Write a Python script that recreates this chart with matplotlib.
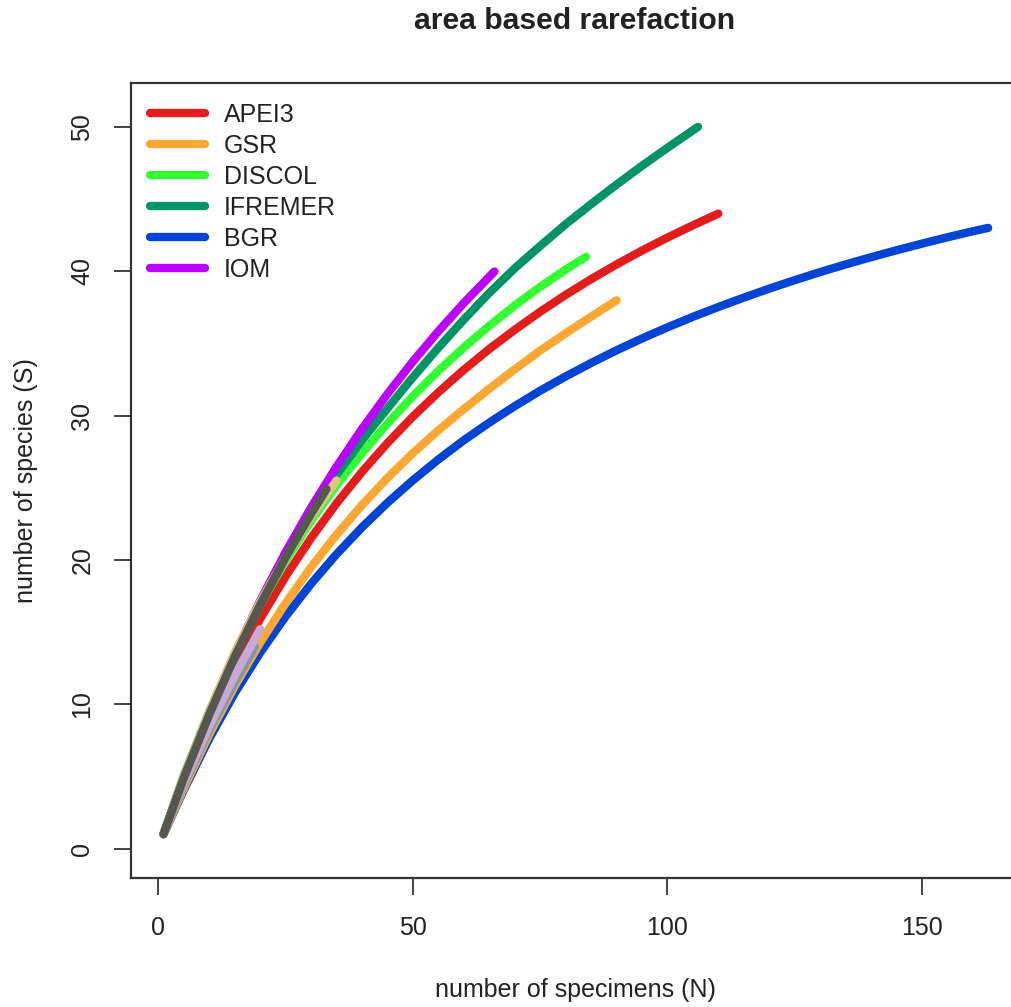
import matplotlib
matplotlib.use('Agg')
import matplotlib.pyplot as plt

plt.rcParams['font.family'] = ['Liberation Sans', 'DejaVu Sans']

# Rarefaction curves (specimens N, species S)
apei3_n = [1, 5, 10, 15, 20, 25, 30, 35, 40, 45, 50, 55, 60, 65, 70, 75, 80, 85, 90, 95, 100, 105, 110]
apei3_s = [1.0, 4.77, 8.95, 12.64, 15.93, 18.87, 21.52, 23.92, 26.10, 28.10, 29.93, 31.61, 33.17,
           34.61, 35.94, 37.19, 38.36, 39.45, 40.47, 41.43, 42.33, 43.18, 43.99]

gsr_n = [1, 5, 10, 15, 20, 25, 30, 35, 40, 45, 50, 55, 60, 65, 70, 75, 80, 85, 90]
gsr_s = [1.0, 4.19, 7.93, 11.27, 14.28, 17.01, 19.50, 21.75, 23.80, 25.68, 27.40, 28.98, 30.45,
         31.85, 33.20, 34.50, 35.70, 36.85, 37.98]

discol_n = [1, 5, 10, 15, 20, 25, 30, 35, 40, 45, 50, 55, 60, 65, 70, 75, 80, 84]
discol_s = [1.0, 5.10, 9.52, 13.42, 16.88, 19.95, 22.70, 25.18, 27.40, 29.45, 31.35, 33.10, 34.72,
            36.22, 37.62, 38.92, 40.12, 41.00]

ifremer_n = [1, 5, 10, 15, 20, 25, 30, 35, 40, 45, 50, 55, 60, 65, 70, 75, 80, 85, 90, 95, 100, 106]
ifremer_s = [1.0, 4.95, 9.3, 13.3, 16.9, 20.2, 23.2, 25.9, 28.3, 30.5, 32.65, 34.7, 36.65, 38.5,
             40.2, 41.75, 43.25, 44.65, 46.0, 47.3, 48.55, 50.0]

bgr_n = [1, 5, 10, 15, 20, 25, 30, 35, 40, 45, 50, 55, 60, 65, 70, 75, 80, 85, 90, 95, 100,
         105, 110, 115, 120, 125, 130, 135, 140, 145, 150, 155, 160, 163]
bgr_s = [1.0, 4.07, 7.63, 10.78, 13.58, 16.09, 18.35, 20.40, 22.26, 23.96, 25.52, 26.96, 28.29,
         29.51, 30.65, 31.72, 32.71, 33.64, 34.52, 35.34, 36.11, 36.84, 37.52, 38.17, 38.79,
         39.38, 39.94, 40.47, 40.97, 41.45, 41.91, 42.35, 42.77, 43.0]

iom_n = [1, 5, 10, 15, 20, 25, 30, 35, 40, 45, 50, 55, 60, 66]
iom_s = [1.0, 4.97, 9.45, 13.50, 17.18, 20.54, 23.63, 26.46, 29.08, 31.50, 33.75, 35.84, 37.80, 39.98]

# short unlabeled curves near the origin
slate_n = [1, 5, 10, 15, 19]
slate_s = [1.0, 4.4, 8.2, 11.5, 14.0]
lavender_n = [1, 5, 10, 15, 20]
lavender_s = [1.0, 4.6, 8.5, 12.0, 15.2]
tan_n = [1, 5, 10, 15, 20, 25, 30, 35]
tan_s = [1.0, 5.0, 9.5, 13.6, 17.1, 20.2, 23.0, 25.5]
grey_n = [1, 5, 10, 15, 20, 25, 30, 33]
grey_s = [1.0, 4.9, 9.3, 13.3, 16.9, 20.2, 23.2, 24.9]

names = ['APEI3', 'GSR', 'DISCOL', 'IFREMER', 'BGR', 'IOM']
colors = ['#e31c1c', '#ffa733', '#33ff33', '#009365', '#0044d6', '#bb00ff']

fig = plt.figure(figsize=(10.12, 10.07), dpi=100)
ax = fig.add_axes([0.129, 0.1281, 0.88, 0.7895])

lw = 6
# draw order: blue first, then upwards
ax.plot(bgr_n, bgr_s, color=colors[4], lw=lw, solid_capstyle='round')
ax.plot(gsr_n, gsr_s, color=colors[1], lw=lw, solid_capstyle='round')
ax.plot(apei3_n, apei3_s, color=colors[0], lw=lw, solid_capstyle='round')
ax.plot(discol_n, discol_s, color=colors[2], lw=lw, solid_capstyle='round')
ax.plot(ifremer_n, ifremer_s, color=colors[3], lw=lw, solid_capstyle='round')
ax.plot(iom_n, iom_s, color=colors[5], lw=lw, solid_capstyle='round')
ax.plot(slate_n, slate_s, color='#7f9aa0', lw=lw, solid_capstyle='round')
ax.plot(lavender_n, lavender_s, color='#c9a9d6', lw=lw, solid_capstyle='round')
ax.plot(tan_n, tan_s, color='#d9c77c', lw=lw, solid_capstyle='round')
ax.plot(grey_n, grey_s, color='#56574f', lw=lw, solid_capstyle='round')

ax.set_xlim(-5.48, 169.48)
ax.set_ylim(-2.04, 53.04)
ax.set_xticks([0, 50, 100, 150])
ax.set_yticks([0, 10, 20, 30, 40, 50])
ax.tick_params(axis='both', length=12, width=1.3, color='#333333',
               labelsize=18, labelcolor='#222222')
ax.tick_params(axis='x', pad=15)
ax.tick_params(axis='y', pad=14)
for lab in ax.get_yticklabels():
    lab.set_rotation(90)
    lab.set_va('center')
for s in ax.spines.values():
    s.set_color('#333333')
    s.set_linewidth(1.6)

ax.set_xlabel('number of specimens (N)', fontsize=18, color='#222222', labelpad=28)
ax.set_ylabel('number of species (S)', fontsize=18, color='#222222', labelpad=23)
fig.text(0.568, 0.979, 'area based rarefaction', fontsize=21.7, fontweight='bold',
         color='#222222', ha='center', va='center')

handles = [plt.Line2D([], [], color=c, lw=lw, solid_capstyle='round') for c in colors]
ax.legend(handles, names, loc='upper left', bbox_to_anchor=(0.022, 0.975),
          frameon=False, fontsize=18, handlelength=2.2, handletextpad=0.75,
          labelspacing=0.28, borderpad=0, borderaxespad=0, labelcolor='#222222')

fig.savefig('out.png', dpi=100)
